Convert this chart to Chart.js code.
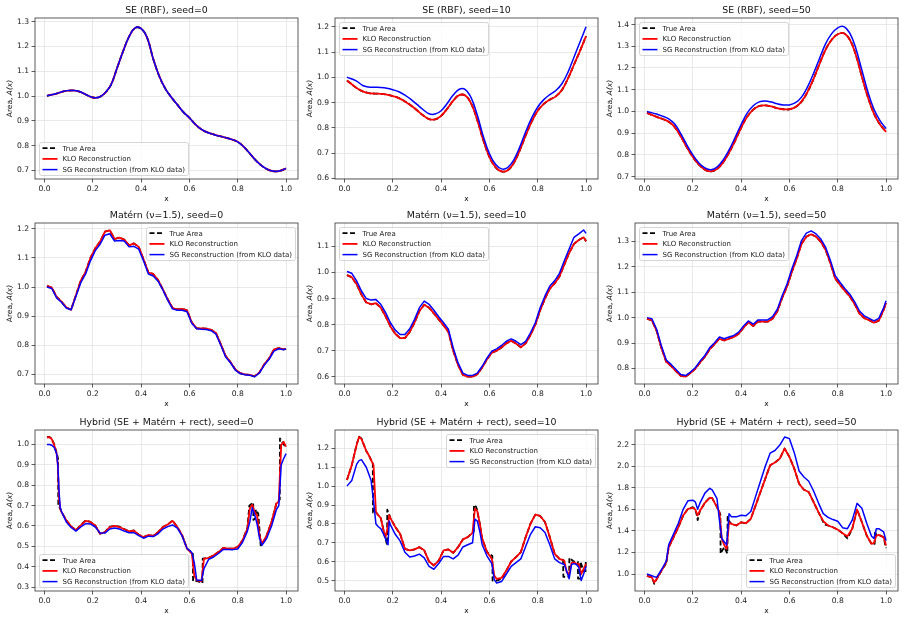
<!DOCTYPE html>
<html>
<head>
<meta charset="utf-8">
<script src="https://cdn.jsdelivr.net/npm/chart.js@4.4.1/dist/chart.umd.min.js"></script>
<style>
  body { margin: 0; background: #fff; }
  #fig { position: relative; width: 905px; height: 642px; overflow: hidden; background: #fff; }
  .cell { position: absolute; }
</style>
</head>
<body>
<div id="fig"></div>
<script>
// ---- shared ticks / labels ----
var xTicks = [0.0, 0.2, 0.4, 0.6, 0.8, 1.0];
var seriesNames = ['True Area', 'KLO Reconstruction', 'SG Reconstruction (from KLO data)'];

// ---- SE (RBF) ----
var seX = [0.01, 0.05, 0.075, 0.1, 0.125, 0.15, 0.175, 0.2, 0.225, 0.25, 0.275, 0.3, 0.325, 0.35, 0.375, 0.4, 0.425, 0.45, 0.475, 0.5,
           0.525, 0.55, 0.575, 0.6, 0.625, 0.65, 0.675, 0.7, 0.725, 0.75, 0.775, 0.8, 0.825, 0.85, 0.875, 0.9, 0.925, 0.95, 0.975, 1.0];

var se0Ticks = [0.7, 0.8, 0.9, 1.0, 1.1, 1.2, 1.3];
var se0True = [1.001, 1.010, 1.018, 1.022, 1.022, 1.016, 1.004, 0.994, 0.995, 1.012, 1.045, 1.112, 1.18, 1.24, 1.275, 1.272, 1.235, 1.15, 1.08, 1.03,
               0.995, 0.965, 0.935, 0.912, 0.885, 0.865, 0.853, 0.845, 0.838, 0.832, 0.825, 0.815, 0.795, 0.768, 0.74, 0.718, 0.703, 0.696, 0.698, 0.708];
var se0Klo = se0True;
var se0Sg = se0True;

var se10Ticks = [0.6, 0.7, 0.8, 0.9, 1.0, 1.1, 1.2];
var se10Klo = [0.988, 0.958, 0.945, 0.938, 0.936, 0.935, 0.932, 0.926, 0.918, 0.905, 0.889, 0.87, 0.85, 0.835, 0.834, 0.848, 0.876, 0.908, 0.93, 0.928,
               0.895, 0.83, 0.75, 0.685, 0.645, 0.628, 0.632, 0.66, 0.71, 0.77, 0.825, 0.868, 0.895, 0.912, 0.925, 0.95, 0.995, 1.05, 1.105, 1.163];
var se10True = se10Klo;
var se10Sg = [1.001, 0.985, 0.968, 0.962, 0.961, 0.96, 0.957, 0.951, 0.943, 0.93, 0.913, 0.893, 0.873, 0.856, 0.855, 0.868, 0.897, 0.93, 0.953, 0.952,
              0.918, 0.85, 0.765, 0.698, 0.656, 0.638, 0.643, 0.672, 0.723, 0.785, 0.84, 0.883, 0.912, 0.932, 0.948, 0.975, 1.02, 1.08, 1.14, 1.2];

var se50Ticks = [0.7, 0.8, 0.9, 1.0, 1.1, 1.2, 1.3, 1.4];
var se50Klo = [0.993, 0.975, 0.965, 0.952, 0.928, 0.885, 0.835, 0.79, 0.755, 0.732, 0.724, 0.735, 0.765, 0.81, 0.865, 0.925, 0.975, 1.008, 1.025, 1.028,
               1.023, 1.015, 1.01, 1.01, 1.02, 1.045, 1.09, 1.15, 1.22, 1.285, 1.33, 1.355, 1.36, 1.33, 1.26, 1.16, 1.065, 0.99, 0.94, 0.906];
var se50True = se50Klo;
var se50Sg = [1.0, 0.988, 0.978, 0.966, 0.942, 0.898, 0.846, 0.8, 0.763, 0.74, 0.732, 0.744, 0.776, 0.823, 0.88, 0.94, 0.992, 1.026, 1.044, 1.048,
              1.043, 1.035, 1.03, 1.03, 1.04, 1.066, 1.113, 1.175, 1.245, 1.312, 1.358, 1.385, 1.39, 1.36, 1.29, 1.19, 1.09, 1.01, 0.958, 0.921];

// ---- Matern (nu=1.5) ----
var matX = [0.01, 0.03, 0.05, 0.07, 0.09, 0.11, 0.13, 0.15, 0.17, 0.19, 0.21, 0.23, 0.25, 0.27, 0.29, 0.31, 0.33, 0.35, 0.37, 0.39,
            0.41, 0.43, 0.45, 0.47, 0.49, 0.51, 0.53, 0.55, 0.57, 0.59, 0.61, 0.63, 0.65, 0.67, 0.69, 0.71, 0.73, 0.75, 0.77, 0.79,
            0.81, 0.83, 0.85, 0.87, 0.89, 0.91, 0.93, 0.95, 0.97, 0.99, 1.0];

var mat0Ticks = [0.7, 0.8, 0.9, 1.0, 1.1, 1.2];
var mat0Klo = [1.004, 0.998, 0.966, 0.95, 0.93, 0.922, 0.972, 1.022, 1.052, 1.1, 1.133, 1.156, 1.19, 1.195, 1.165, 1.17, 1.163, 1.143, 1.15, 1.138,
               1.095, 1.05, 1.045, 1.024, 0.992, 0.958, 0.928, 0.923, 0.925, 0.92, 0.878, 0.858, 0.858, 0.857, 0.853, 0.842, 0.803, 0.763, 0.742, 0.717,
               0.704, 0.7, 0.698, 0.693, 0.707, 0.735, 0.755, 0.786, 0.79, 0.786, 0.788];
var mat0True = mat0Klo;
var mat0Sg = [1.0, 0.995, 0.963, 0.948, 0.928, 0.922, 0.968, 1.015, 1.045, 1.09, 1.125, 1.147, 1.178, 1.183, 1.158, 1.16, 1.158, 1.138, 1.14, 1.13,
              1.09, 1.045, 1.038, 1.02, 0.99, 0.955, 0.925, 0.92, 0.92, 0.915, 0.875, 0.857, 0.855, 0.854, 0.85, 0.838, 0.8, 0.76, 0.74, 0.715,
              0.703, 0.699, 0.697, 0.692, 0.705, 0.732, 0.752, 0.78, 0.788, 0.785, 0.787];

var mat10Ticks = [0.6, 0.7, 0.8, 0.9, 1.0, 1.1];
var mat10Klo = [0.99, 0.982, 0.955, 0.915, 0.885, 0.878, 0.882, 0.865, 0.832, 0.793, 0.765, 0.748, 0.748, 0.772, 0.808, 0.852, 0.876, 0.865, 0.843, 0.82,
                0.797, 0.772, 0.7, 0.645, 0.607, 0.6, 0.6, 0.61, 0.635, 0.667, 0.692, 0.7, 0.712, 0.728, 0.738, 0.727, 0.713, 0.728, 0.76, 0.8,
                0.855, 0.9, 0.938, 0.958, 0.985, 1.03, 1.075, 1.11, 1.125, 1.135, 1.12];
var mat10True = mat10Klo;
var mat10Sg = [1.004, 0.997, 0.968, 0.929, 0.9, 0.894, 0.896, 0.878, 0.846, 0.807, 0.779, 0.762, 0.762, 0.784, 0.82, 0.865, 0.89, 0.878, 0.855, 0.83,
               0.807, 0.782, 0.71, 0.653, 0.614, 0.605, 0.605, 0.614, 0.64, 0.672, 0.698, 0.707, 0.72, 0.736, 0.745, 0.736, 0.723, 0.736, 0.768, 0.807,
               0.865, 0.91, 0.948, 0.968, 0.997, 1.045, 1.09, 1.135, 1.148, 1.163, 1.15];

var mat50Ticks = [0.8, 0.9, 1.0, 1.1, 1.2, 1.3];
var mat50Klo = [0.995, 0.99, 0.948, 0.88, 0.826, 0.81, 0.79, 0.771, 0.768, 0.782, 0.799, 0.824, 0.846, 0.876, 0.896, 0.917, 0.91, 0.917, 0.924, 0.937,
                0.96, 0.982, 0.967, 0.985, 0.984, 0.984, 0.996, 1.025, 1.078, 1.122, 1.18, 1.232, 1.29, 1.318, 1.328, 1.318, 1.298, 1.266, 1.213, 1.153,
                1.128, 1.105, 1.083, 1.053, 1.016, 0.998, 0.99, 0.98, 0.988, 1.03, 1.058];
var mat50True = mat50Klo;
var mat50Sg = [1.0, 0.996, 0.954, 0.888, 0.833, 0.816, 0.796, 0.776, 0.772, 0.786, 0.803, 0.829, 0.851, 0.882, 0.901, 0.924, 0.917, 0.924, 0.93, 0.943,
               0.967, 0.987, 0.974, 0.991, 0.991, 0.991, 1.004, 1.033, 1.086, 1.132, 1.191, 1.243, 1.303, 1.332, 1.341, 1.329, 1.309, 1.276, 1.224, 1.164,
               1.138, 1.114, 1.092, 1.062, 1.026, 1.007, 0.997, 0.987, 0.997, 1.039, 1.066];

// ---- Hybrid (SE + Matern + rect) ----
var hyb0Ticks = [0.3, 0.4, 0.5, 0.6, 0.7, 0.8, 0.9, 1.0];
var hyb0X = [0.01, 0.02, 0.03, 0.04, 0.05, 0.055, 0.06, 0.065, 0.07, 0.09, 0.11, 0.13, 0.15, 0.17, 0.19, 0.21, 0.23, 0.25, 0.27, 0.29,
             0.31, 0.33, 0.35, 0.37, 0.39, 0.41, 0.43, 0.45, 0.47, 0.49, 0.51, 0.53, 0.55, 0.57, 0.59, 0.61, 0.62, 0.63, 0.65, 0.66,
             0.68, 0.7, 0.72, 0.74, 0.76, 0.78, 0.8, 0.82, 0.84, 0.85, 0.86, 0.87, 0.88, 0.89, 0.9, 0.92, 0.94, 0.96, 0.97, 0.98, 0.99, 1.0];
var hyb0Klo = [1.033, 1.036, 1.026, 0.997, 0.956, 0.9, 0.734, 0.685, 0.669, 0.628, 0.598, 0.579, 0.603, 0.625, 0.62, 0.603, 0.562, 0.57, 0.595, 0.6,
               0.595, 0.584, 0.574, 0.577, 0.557, 0.546, 0.556, 0.551, 0.57, 0.595, 0.607, 0.625, 0.595, 0.554, 0.489, 0.464, 0.357, 0.333, 0.33, 0.439,
               0.444, 0.456, 0.472, 0.492, 0.489, 0.489, 0.497, 0.53, 0.587, 0.685, 0.705, 0.669, 0.652, 0.554, 0.513, 0.554, 0.62, 0.71, 0.721, 0.997, 1.013, 0.989];
var hyb0Sg = [1.0, 1.0, 0.996, 0.985, 0.955, 0.9, 0.77, 0.69, 0.672, 0.62, 0.593, 0.575, 0.595, 0.612, 0.61, 0.595, 0.565, 0.565, 0.585, 0.59,
              0.585, 0.575, 0.567, 0.567, 0.553, 0.54, 0.55, 0.548, 0.562, 0.585, 0.597, 0.605, 0.59, 0.55, 0.49, 0.47, 0.42, 0.335, 0.333, 0.39,
              0.437, 0.448, 0.465, 0.485, 0.485, 0.484, 0.487, 0.52, 0.575, 0.62, 0.69, 0.655, 0.61, 0.54, 0.505, 0.54, 0.6, 0.68, 0.7, 0.9, 0.93, 0.955];
var hyb0TrueX = [0.01, 0.02, 0.03, 0.04, 0.05, 0.056, 0.057, 0.065, 0.07, 0.09, 0.11, 0.13, 0.15, 0.17, 0.19, 0.21, 0.23, 0.25, 0.27, 0.29,
                 0.31, 0.33, 0.35, 0.37, 0.39, 0.41, 0.43, 0.45, 0.47, 0.49, 0.51, 0.53, 0.55, 0.57, 0.59, 0.61, 0.614, 0.615, 0.63, 0.654,
                 0.655, 0.68, 0.7, 0.72, 0.74, 0.76, 0.78, 0.8, 0.82, 0.84, 0.848, 0.864, 0.865, 0.874, 0.875, 0.885, 0.895, 0.9, 0.92, 0.94,
                 0.96, 0.974, 0.975, 0.99, 1.0];
var hyb0TrueY = [1.036, 1.037, 1.028, 1.0, 0.96, 0.93, 0.70, 0.685, 0.669, 0.628, 0.598, 0.579, 0.605, 0.627, 0.62, 0.603, 0.562, 0.57, 0.597, 0.6,
                 0.597, 0.585, 0.574, 0.578, 0.557, 0.546, 0.556, 0.551, 0.57, 0.595, 0.607, 0.627, 0.595, 0.554, 0.489, 0.47, 0.465, 0.33, 0.33, 0.32,
                 0.44, 0.444, 0.456, 0.472, 0.492, 0.489, 0.489, 0.497, 0.53, 0.59, 0.70, 0.715, 0.63, 0.64, 0.68, 0.66, 0.505, 0.505, 0.554, 0.62,
                 0.71, 0.73, 1.03, 1.0, 0.99];

var hyb10Ticks = [0.5, 0.6, 0.7, 0.8, 0.9, 1.0, 1.1, 1.2];
var hyb10X = [0.01, 0.03, 0.05, 0.06, 0.07, 0.09, 0.1, 0.11, 0.12, 0.13, 0.14, 0.15, 0.16, 0.17, 0.18, 0.185, 0.19, 0.21, 0.23, 0.25,
              0.27, 0.29, 0.31, 0.33, 0.35, 0.37, 0.39, 0.41, 0.43, 0.45, 0.47, 0.49, 0.51, 0.53, 0.54, 0.55, 0.56, 0.57, 0.59, 0.61,
              0.62, 0.63, 0.65, 0.67, 0.69, 0.71, 0.73, 0.75, 0.77, 0.79, 0.81, 0.83, 0.85, 0.87, 0.89, 0.91, 0.92, 0.93, 0.94, 0.95,
              0.96, 0.97, 0.98, 0.99, 1.0];
var hyb10Klo = [1.032, 1.111, 1.218, 1.26, 1.25, 1.186, 1.165, 1.138, 1.111, 0.863, 0.846, 0.831, 0.775, 0.73, 0.79, 0.846, 0.831, 0.784, 0.748, 0.668,
                0.66, 0.665, 0.677, 0.66, 0.601, 0.58, 0.606, 0.66, 0.665, 0.647, 0.677, 0.718, 0.73, 0.753, 0.881, 0.867, 0.801, 0.722, 0.651, 0.615,
                0.527, 0.509, 0.514, 0.553, 0.601, 0.624, 0.651, 0.73, 0.801, 0.849, 0.842, 0.81, 0.73, 0.642, 0.615, 0.606, 0.544, 0.535, 0.594, 0.597,
                0.589, 0.589, 0.535, 0.562, 0.589];
var hyb10Sg = [1.0, 1.03, 1.115, 1.135, 1.14, 1.1, 1.065, 1.03, 0.92, 0.8, 0.785, 0.775, 0.75, 0.72, 0.69, 0.815, 0.795, 0.745, 0.71, 0.65,
               0.625, 0.63, 0.64, 0.62, 0.575, 0.56, 0.59, 0.628, 0.628, 0.615, 0.635, 0.678, 0.69, 0.7, 0.825, 0.815, 0.76, 0.69, 0.63, 0.59,
               0.505, 0.487, 0.495, 0.535, 0.575, 0.595, 0.615, 0.68, 0.745, 0.785, 0.78, 0.755, 0.69, 0.615, 0.595, 0.585, 0.55, 0.51, 0.585, 0.59,
               0.585, 0.57, 0.5, 0.535, 0.575];
var hyb10TrueX = [0.01, 0.03, 0.05, 0.06, 0.07, 0.09, 0.1, 0.11, 0.117, 0.118, 0.13, 0.14, 0.15, 0.16, 0.17, 0.176, 0.177, 0.185, 0.19, 0.21,
                  0.23, 0.25, 0.27, 0.29, 0.31, 0.33, 0.35, 0.37, 0.39, 0.41, 0.43, 0.45, 0.47, 0.49, 0.51, 0.535, 0.536, 0.545, 0.55, 0.56,
                  0.57, 0.59, 0.612, 0.613, 0.63, 0.65, 0.67, 0.69, 0.71, 0.73, 0.75, 0.77, 0.79, 0.81, 0.83, 0.85, 0.87, 0.89, 0.905, 0.906,
                  0.93, 0.931, 0.95, 0.966, 0.967, 0.976, 0.977, 0.99, 0.998, 0.999, 1.0];
var hyb10TrueY = [1.032, 1.111, 1.22, 1.262, 1.252, 1.186, 1.165, 1.138, 1.12, 0.86, 0.862, 0.846, 0.831, 0.775, 0.72, 0.69, 0.875, 0.85, 0.831, 0.784,
                  0.748, 0.668, 0.66, 0.665, 0.677, 0.66, 0.601, 0.58, 0.606, 0.66, 0.665, 0.647, 0.677, 0.718, 0.73, 0.76, 0.9, 0.89, 0.867, 0.80,
                  0.722, 0.651, 0.63, 0.5, 0.5, 0.51, 0.553, 0.601, 0.624, 0.651, 0.73, 0.801, 0.849, 0.842, 0.81, 0.73, 0.642, 0.615, 0.61, 0.52,
                  0.52, 0.62, 0.6, 0.6, 0.51, 0.51, 0.6, 0.55, 0.55, 0.61, 0.61];

var hyb50Ticks = [1.0, 1.2, 1.4, 1.6, 1.8, 2.0, 2.2];
var hyb50X = [0.01, 0.03, 0.04, 0.05, 0.07, 0.09, 0.1, 0.12, 0.14, 0.16, 0.18, 0.2, 0.21, 0.22, 0.23, 0.25, 0.27, 0.28, 0.3, 0.31,
              0.32, 0.33, 0.34, 0.35, 0.36, 0.38, 0.4, 0.42, 0.44, 0.46, 0.48, 0.5, 0.52, 0.54, 0.56, 0.58, 0.6, 0.62, 0.64, 0.66,
              0.68, 0.7, 0.72, 0.74, 0.76, 0.78, 0.8, 0.82, 0.84, 0.86, 0.88, 0.9, 0.92, 0.94, 0.95, 0.96, 0.97, 0.99, 1.0];
var hyb50Klo = [0.984, 0.969, 0.922, 0.953, 1.031, 1.109, 1.248, 1.341, 1.434, 1.543, 1.605, 1.614, 1.598, 1.543, 1.589, 1.66, 1.707, 1.704, 1.62, 1.574,
                1.326, 1.27, 1.233, 1.48, 1.465, 1.45, 1.48, 1.471, 1.512, 1.636, 1.76, 1.884, 2.008, 2.033, 2.07, 2.163, 2.085, 1.977, 1.837, 1.781,
                1.76, 1.667, 1.574, 1.49, 1.45, 1.434, 1.412, 1.378, 1.35, 1.419, 1.598, 1.48, 1.357, 1.279, 1.288, 1.357, 1.363, 1.341, 1.264];
var hyb50Sg = [1.0, 0.985, 0.975, 0.97, 1.04, 1.12, 1.27, 1.37, 1.47, 1.6, 1.68, 1.685, 1.67, 1.6, 1.66, 1.75, 1.795, 1.78, 1.7, 1.5,
               1.33, 1.3, 1.27, 1.56, 1.53, 1.53, 1.545, 1.54, 1.58, 1.72, 1.86, 2.0, 2.12, 2.145, 2.195, 2.27, 2.255, 2.125, 1.955, 1.9,
               1.86, 1.77, 1.66, 1.56, 1.525, 1.505, 1.49, 1.43, 1.42, 1.5, 1.655, 1.61, 1.47, 1.35, 1.33, 1.42, 1.42, 1.39, 1.31];
var hyb50TrueX = [0.01, 0.03, 0.035, 0.04, 0.045, 0.05, 0.07, 0.09, 0.1, 0.12, 0.14, 0.16, 0.18, 0.2, 0.21, 0.215, 0.22, 0.225, 0.23, 0.25,
                  0.27, 0.28, 0.3, 0.31, 0.314, 0.315, 0.33, 0.343, 0.344, 0.35, 0.36, 0.38, 0.4, 0.42, 0.44, 0.46, 0.48, 0.5, 0.52, 0.54,
                  0.56, 0.58, 0.6, 0.62, 0.64, 0.66, 0.68, 0.7, 0.72, 0.745, 0.76, 0.78, 0.8, 0.82, 0.84, 0.86, 0.88, 0.9, 0.92, 0.94,
                  0.953, 0.954, 0.96, 0.97, 0.99, 1.0];
var hyb50TrueY = [0.984, 0.97, 0.945, 0.91, 0.93, 0.953, 1.031, 1.1, 1.248, 1.341, 1.434, 1.543, 1.605, 1.62, 1.598, 1.56, 1.5, 1.55, 1.589, 1.66,
                  1.71, 1.704, 1.62, 1.574, 1.55, 1.19, 1.25, 1.19, 1.53, 1.49, 1.465, 1.45, 1.48, 1.471, 1.512, 1.636, 1.76, 1.884, 2.008, 2.033,
                  2.07, 2.163, 2.085, 1.977, 1.837, 1.781, 1.76, 1.667, 1.574, 1.46, 1.45, 1.434, 1.412, 1.378, 1.33, 1.419, 1.6, 1.48, 1.357, 1.279,
                  1.28, 1.40, 1.357, 1.363, 1.341, 1.24];

// panel table built from the arrays above
var panels = [
  {title: 'SE (RBF), seed=0', yMin: 0.665, yMax: 1.315, yTicks: se0Ticks, legend: 'lower left', smooth: true,
   tx: seX, ty: se0True, x: seX, klo: se0Klo, sg: se0Sg},
  {title: 'SE (RBF), seed=10', yMin: 0.598, yMax: 1.235, yTicks: se10Ticks, legend: 'upper left', smooth: true,
   tx: seX, ty: se10True, x: seX, klo: se10Klo, sg: se10Sg},
  {title: 'SE (RBF), seed=50', yMin: 0.689, yMax: 1.43, yTicks: se50Ticks, legend: 'upper left', smooth: true,
   tx: seX, ty: se50True, x: seX, klo: se50Klo, sg: se50Sg},
  {title: 'Matérn (ν=1.5), seed=0', yMin: 0.667, yMax: 1.22, yTicks: mat0Ticks, legend: 'upper right', smooth: false,
   tx: matX, ty: mat0True, x: matX, klo: mat0Klo, sg: mat0Sg},
  {title: 'Matérn (ν=1.5), seed=10', yMin: 0.572, yMax: 1.19, yTicks: mat10Ticks, legend: 'upper left', smooth: false,
   tx: matX, ty: mat10True, x: matX, klo: mat10Klo, sg: mat10Sg},
  {title: 'Matérn (ν=1.5), seed=50', yMin: 0.739, yMax: 1.372, yTicks: mat50Ticks, legend: 'upper left', smooth: false,
   tx: matX, ty: mat50True, x: matX, klo: mat50Klo, sg: mat50Sg},
  {title: 'Hybrid (SE + Matérn + rect), seed=0', yMin: 0.281, yMax: 1.071, yTicks: hyb0Ticks, legend: 'lower left', smooth: false,
   tx: hyb0TrueX, ty: hyb0TrueY, x: hyb0X, klo: hyb0Klo, sg: hyb0Sg},
  {title: 'Hybrid (SE + Matérn + rect), seed=10', yMin: 0.445, yMax: 1.297, yTicks: hyb10Ticks, legend: 'upper right', smooth: false,
   tx: hyb10TrueX, ty: hyb10TrueY, x: hyb10X, klo: hyb10Klo, sg: hyb10Sg},
  {title: 'Hybrid (SE + Matérn + rect), seed=50', yMin: 0.843, yMax: 2.335, yTicks: hyb50Ticks, legend: 'lower right', smooth: false,
   tx: hyb50TrueX, ty: hyb50TrueY, x: hyb50X, klo: hyb50Klo, sg: hyb50Sg}
];

var FONT = '"DejaVu Sans", "Liberation Sans", sans-serif';
var lineStyles = [
  {color: '#000000', width: 1.8, dash: [5, 2.5]},
  {color: '#ff0000', width: 1.8, dash: []},
  {color: '#0000ff', width: 1.5, dash: []}
];

function pts(xs, ys) {
  var out = [];
  for (var i = 0; i < xs.length; i++) {
    out.push({x: xs[i], y: ys[i]});
  }
  return out;
}

function drawLegend(ctx, a, pos) {
  var bw = 149, bh = 33;
  var bx = pos.indexOf('left') >= 0 ? a.left + 4 : a.right - 3 - bw;
  var by = pos.indexOf('upper') >= 0 ? a.top + 4 : a.bottom - 4 - bh;
  bx = Math.round(bx) + 0.5;
  by = Math.round(by) + 0.5;
  var r = 2;
  ctx.beginPath();
  ctx.moveTo(bx + r, by);
  ctx.arcTo(bx + bw, by, bx + bw, by + bh, r);
  ctx.arcTo(bx + bw, by + bh, bx, by + bh, r);
  ctx.arcTo(bx, by + bh, bx, by, r);
  ctx.arcTo(bx, by, bx + bw, by, r);
  ctx.closePath();
  ctx.fillStyle = 'rgba(255,255,255,0.8)';
  ctx.fill();
  ctx.strokeStyle = '#cccccc';
  ctx.lineWidth = 0.8;
  ctx.stroke();

  ctx.font = '7px ' + FONT;
  ctx.textAlign = 'left';
  ctx.textBaseline = 'middle';
  for (var i = 0; i < 3; i++) {
    var y = by + 5.7 + i * 10.7;
    var s = lineStyles[i];
    ctx.beginPath();
    ctx.setLineDash(s.dash);
    ctx.strokeStyle = s.color;
    ctx.lineWidth = s.width;
    ctx.moveTo(bx + 3, y);
    ctx.lineTo(bx + 18, y);
    ctx.stroke();
    ctx.setLineDash([]);
    ctx.fillStyle = '#1a1a1a';
    ctx.fillText(seriesNames[i], bx + 23, y + 0.5);
  }
}

function makeDecor(p) {
  return {
    id: 'decor',
    afterDraw: function (chart) {
      var ctx = chart.ctx;
      var a = chart.chartArea;
      var cx = (a.left + a.right) / 2;
      ctx.save();
      // axes frame
      ctx.strokeStyle = '#333';
      ctx.lineWidth = 0.8;
      ctx.strokeRect(a.left, a.top, a.right - a.left, a.bottom - a.top);
      // title
      ctx.fillStyle = '#111';
      ctx.font = '9.4px ' + FONT;
      ctx.textAlign = 'center';
      ctx.textBaseline = 'middle';
      ctx.fillText(p.title, cx, a.top - 7);
      // x label
      ctx.font = '7.5px ' + FONT;
      ctx.fillText('x', cx, a.bottom + 20);
      // y label: "Area, " + italic A(x)
      ctx.save();
      ctx.translate(10, (a.top + a.bottom) / 2);
      ctx.rotate(-Math.PI / 2);
      ctx.textAlign = 'left';
      var f1 = '7.5px ' + FONT, f2 = 'italic 7.5px ' + FONT;
      ctx.font = f1;
      var w1 = ctx.measureText('Area, ').width;
      ctx.font = f2;
      var w2 = ctx.measureText('A(x)').width;
      ctx.font = f1;
      ctx.fillText('Area, ', -(w1 + w2) / 2, 0);
      ctx.font = f2;
      ctx.fillText('A(x)', -(w1 + w2) / 2 + w1, 0);
      ctx.restore();
      drawLegend(ctx, a, p.legend);
      ctx.restore();
    }
  };
}

var fig = document.getElementById('fig');
var rowTop = [18, 223, 430];
var plotH = 161, plotW = 263, padL = 35, padT = 18, axisH = 30;

panels.forEach(function (p, i) {
  var col = i % 3, row = Math.floor(i / 3);
  var w = col === 2 ? 305 : 300;
  var h = padT + plotH + axisH;
  var div = document.createElement('div');
  div.className = 'cell';
  div.style.left = (col * 300) + 'px';
  div.style.top = (rowTop[row] - padT) + 'px';
  div.style.width = w + 'px';
  div.style.height = h + 'px';
  var cv = document.createElement('canvas');
  cv.width = w;
  cv.height = h;
  cv.style.width = w + 'px';
  cv.style.height = h + 'px';
  div.appendChild(cv);
  fig.appendChild(div);

  var series = [pts(p.tx, p.ty), pts(p.x, p.klo), pts(p.x, p.sg)];
  var datasets = series.map(function (d, k) {
    return {
      label: seriesNames[k],
      data: d,
      borderColor: lineStyles[k].color,
      borderWidth: lineStyles[k].width,
      borderDash: lineStyles[k].dash,
      fill: false,
      order: 2 - k
    };
  });

  var tickFont = {family: FONT, size: 7.6};
  new Chart(cv.getContext('2d'), {
    type: 'line',
    data: {datasets: datasets},
    options: {
      responsive: false,
      animation: false,
      events: [],
      devicePixelRatio: 1,
      layout: {padding: {left: 0, top: padT, right: w - padL - plotW, bottom: 0}},
      elements: {
        point: {radius: 0},
        line: {tension: p.smooth ? 0.4 : 0, borderCapStyle: 'butt', borderJoinStyle: 'round'}
      },
      plugins: {legend: {display: false}, tooltip: {enabled: false}, title: {display: false}},
      scales: {
        x: {
          type: 'linear',
          min: -0.0395,
          max: 1.0495,
          afterBuildTicks: function (s) { s.ticks = xTicks.map(function (v) { return {value: v}; }); },
          afterFit: function (s) { s.height = axisH; s.paddingLeft = 0; s.paddingRight = 0; },
          ticks: {font: tickFont, color: '#222', padding: 1.5, maxRotation: 0, autoSkip: false,
                  callback: function (v) { return Number(v).toFixed(1); }},
          grid: {color: '#e3e3e3', lineWidth: 0.8, tickColor: '#333', tickLength: 3.5, tickWidth: 0.8},
          border: {display: false}
        },
        y: {
          type: 'linear',
          min: p.yMin,
          max: p.yMax,
          afterBuildTicks: function (s) { s.ticks = p.yTicks.map(function (v) { return {value: v}; }); },
          afterFit: function (s) { s.width = padL; s.paddingTop = 0; s.paddingBottom = 0; },
          ticks: {font: tickFont, color: '#222', padding: 2.5, autoSkip: false,
                  callback: function (v) { return Number(v).toFixed(1); }},
          grid: {color: '#e3e3e3', lineWidth: 0.8, tickColor: '#333', tickLength: 3.5, tickWidth: 0.8},
          border: {display: false}
        }
      }
    },
    plugins: [makeDecor(p)]
  });
});
</script>
</body>
</html>
